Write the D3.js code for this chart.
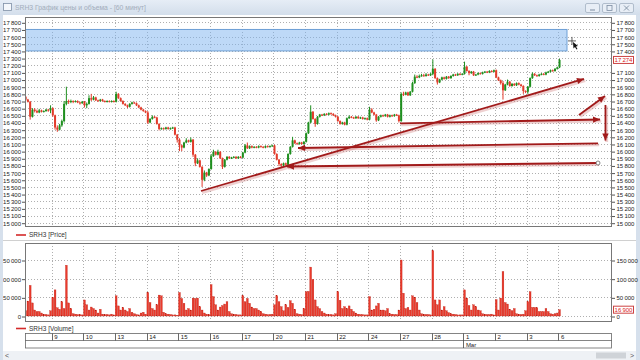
<!DOCTYPE html>
<html><head><meta charset="utf-8">
<script src="https://cdn.jsdelivr.net/npm/d3@7"></script>
<style>html,body{margin:0;padding:0;background:#fff;overflow:hidden}text{font-family:"Liberation Sans",Arial,sans-serif}</style>
</head><body><svg id="c" width="640" height="360"></svg>
<script>
// ---- data ----
const titleText = "SRH3 График цены и объема - [60 минут]";
const dayLabels = ["8","9","10","13","14","15","16","17","20","21","22","24","27","28","1","2","3","6"];
const monthLabels = [{day: 14, text: "Mar"}];
const firstSlot = 2; // first visible hourly bar of Feb 8
const priceTicks = d3.range(15000, 17801, 100);
const volumeTicks = [0, 50000, 100000, 150000];
const opens = [
16760,16720,16690,16480,16580,16560,16540,16570,16550,16560,16580,16570,
16600,16500,16330,16300,16360,16420,16660,16700,16690,16700,16690,16700,16680,16670,
16690,16640,16660,16740,16720,16750,16710,16700,16720,16700,16690,16700,16690,16700,
16690,16800,16740,16700,16660,16640,16620,16660,16680,16670,16640,16610,16580,16560,
16540,16400,16450,16480,16470,16380,16310,16320,16310,16330,16310,16320,16330,16230,
16160,16080,16050,16120,16150,16130,16160,15950,15830,15870,15780,15600,15700,15660,
15750,15930,15990,15950,15990,15900,15780,15880,15920,15900,15910,15920,15900,15920,
15910,15980,16080,16040,16070,16050,16060,16050,16070,16060,16050,16070,16060,16070,
16080,15960,15880,15820,15800,15830,15810,15960,16060,16150,16110,16100,16120,16100,
16130,16250,16400,16550,16450,16380,16480,16510,16500,16520,16510,16530,16520,16500,
16480,16420,16380,16400,16370,16460,16480,16470,16460,16480,16460,16470,16450,16460,
16440,16580,16540,16510,16430,16480,16500,16490,16510,16480,16500,16490,16510,16500,
16420,16800,16790,16820,16780,16830,16950,17040,17030,17050,17060,17050,17070,17060,
17080,17150,17020,16960,17000,17030,17010,17040,17020,17050,17070,17060,17080,17070,
17080,17180,17120,17090,17110,17060,17070,17090,17080,17100,17110,17100,17120,17110,
17130,17030,16990,16950,16850,16930,16970,16910,16940,16920,16950,16930,16910,16840,
16830,16900,17020,17080,17060,17050,17070,17080,17070,17100,17110,17130,17120,17150,
17170];
const highs = [
16770,16730,16700,16600,16600,16580,16590,16580,16570,16590,16590,16640,
16610,16510,16360,16380,16440,16700,16900,16720,16720,16710,16710,16710,16690,16700,
16700,16680,16780,16800,16770,16760,16720,16730,16730,16710,16710,16710,16710,16710,
16830,16810,16750,16710,16670,16650,16670,16690,16690,16680,16650,16620,16590,16570,
16560,16460,16500,16490,16480,16390,16330,16330,16340,16340,16330,16340,16340,16240,
16180,16090,16130,16180,16160,16190,16170,15960,15900,15880,15790,15730,15710,15760,
15960,16020,16000,16020,16000,15910,15890,15930,15930,15920,15930,15930,15930,15930,
15990,16100,16120,16080,16080,16070,16070,16080,16080,16070,16080,16080,16080,16090,
16090,15970,15890,15830,15840,15840,15970,16070,16200,16160,16120,16130,16130,16140,
16260,16410,16640,16560,16460,16490,16520,16520,16530,16530,16540,16540,16530,16510,
16490,16430,16410,16410,16470,16500,16490,16480,16490,16490,16480,16480,16470,16470,
16620,16600,16550,16520,16490,16510,16510,16520,16520,16510,16510,16520,16520,16510,
16820,16830,16830,16830,16840,16970,17070,17060,17070,17080,17080,17090,17080,17090,
17280,17160,17030,17010,17040,17040,17050,17050,17060,17080,17080,17090,17090,17090,
17250,17190,17130,17120,17120,17080,17100,17100,17110,17120,17120,17130,17130,17140,
17140,17040,17000,16980,16940,17000,16980,16950,16950,16960,16960,16940,16920,16850,
16910,17030,17100,17090,17070,17080,17090,17090,17110,17120,17140,17140,17160,17180,
17290];
const lows = [
16700,16680,16440,16470,16540,16530,16530,16540,16540,16550,16550,16530,
16480,16300,16270,16290,16340,16400,16640,16660,16670,16670,16680,16670,16650,16660,
16610,16600,16650,16700,16710,16700,16690,16690,16690,16680,16680,16680,16680,16680,
16680,16730,16690,16650,16630,16600,16610,16650,16660,16630,16600,16570,16550,16530,
16380,16390,16440,16460,16370,16290,16300,16300,16300,16300,16300,16310,16220,16120,
16000,16000,16040,16110,16120,16120,15920,15790,15820,15770,15500,15580,15640,15650,
15740,15920,15940,15940,15890,15750,15770,15870,15890,15890,15900,15890,15890,15900,
15900,15970,16030,16030,16040,16040,16040,16040,16050,16040,16040,16050,16050,16060,
15950,15870,15790,15770,15790,15800,15800,15950,16050,16100,16090,16090,16090,16090,
16120,16240,16390,16440,16340,16370,16470,16490,16490,16500,16500,16510,16490,16470,
16410,16370,16370,16360,16360,16450,16460,16450,16450,16450,16450,16440,16440,16430,
16430,16530,16500,16410,16420,16470,16480,16480,16470,16470,16480,16480,16490,16400,
16410,16770,16780,16770,16770,16820,16940,17020,17020,17040,17040,17040,17050,17050,
17060,17010,16930,16950,16990,17000,17000,17010,17010,17040,17050,17050,17060,17060,
17070,17110,17060,17080,17050,17050,17060,17070,17070,17090,17090,17090,17100,17100,
17020,16980,16930,16720,16840,16920,16900,16900,16910,16910,16920,16900,16800,16810,
16800,16890,17010,17050,17040,17040,17060,17060,17060,17090,17100,17110,17110,17140,
17160];
const closes = [
16720,16690,16480,16580,16560,16540,16570,16550,16560,16580,16570,16600,
16500,16330,16300,16360,16420,16660,16700,16690,16700,16690,16700,16680,16670,16690,
16640,16660,16740,16720,16750,16710,16700,16720,16700,16690,16700,16690,16700,16690,
16800,16740,16700,16660,16640,16620,16660,16680,16670,16640,16610,16580,16560,16540,
16400,16450,16480,16470,16380,16310,16320,16310,16330,16310,16320,16330,16230,16160,
16080,16050,16120,16150,16130,16160,15950,15830,15870,15780,15600,15700,15660,15750,
15930,15990,15950,15990,15900,15780,15880,15920,15900,15910,15920,15900,15920,15910,
15980,16080,16040,16070,16050,16060,16050,16070,16060,16050,16070,16060,16070,16080,
15960,15880,15820,15800,15830,15810,15960,16060,16150,16110,16100,16120,16100,16130,
16250,16400,16550,16450,16380,16480,16510,16500,16520,16510,16530,16520,16500,16480,
16420,16380,16400,16370,16460,16480,16470,16460,16480,16460,16470,16450,16460,16440,
16580,16540,16510,16430,16480,16500,16490,16510,16480,16500,16490,16510,16500,16420,
16800,16790,16820,16780,16830,16950,17040,17030,17050,17060,17050,17070,17060,17080,
17150,17020,16960,17000,17030,17010,17040,17020,17050,17070,17060,17080,17070,17080,
17180,17120,17090,17110,17060,17070,17090,17080,17100,17110,17100,17120,17110,17130,
17030,16990,16950,16850,16930,16970,16910,16940,16920,16950,16930,16910,16840,16830,
16900,17020,17080,17060,17050,17070,17080,17070,17100,17110,17130,17120,17150,17170,
17274];
const volumes = [
14000,40000,82000,35000,16000,12000,12000,8000,5000,4000,3000,14000,
50000,70000,22000,18000,38000,20000,136000,35000,20000,6000,5000,4000,4000,3000,
43000,30000,16000,24000,20000,16000,8000,18000,5000,4000,4000,3000,5000,3000,
54000,27000,16000,23000,16000,12000,20000,10000,6000,4000,3000,8000,10000,5000,
63000,36000,20000,16000,30000,56000,54000,10000,6000,5000,4000,3000,3000,2000,
63000,47000,34000,16000,20000,16000,48000,47000,48000,25000,16000,8000,5000,4000,
84000,52000,30000,16000,24000,28000,32000,38000,12000,6000,5000,4000,3000,3000,
54000,38000,47000,34000,24000,20000,20000,16000,12000,6000,5000,4000,4000,5000,
30000,54000,38000,25000,14000,30000,23000,41000,34000,18000,6000,5000,4000,20000,
65000,66000,131000,98000,43000,25000,20000,12000,8000,5000,4000,4000,3000,6000,
65000,42000,20000,25000,20000,27000,18000,12000,8000,5000,4000,4000,3000,3000,
52000,16000,18000,27000,34000,16000,16000,14000,20000,6000,5000,4000,4000,16000,
150000,61000,20000,23000,16000,54000,50000,36000,16000,6000,5000,4000,4000,3000,
175000,43000,30000,43000,16000,25000,14000,9000,6000,5000,4000,3000,3000,3000,
70000,48000,28000,16000,30000,25000,16000,14000,6000,5000,4000,4000,5000,3000,
44000,16000,48000,119000,36000,32000,18000,14000,20000,6000,5000,4000,5000,14000,
38000,65000,23000,23000,22000,12000,12000,12000,20000,12000,6000,5000,6000,8000,
16900];
const zone = {from: 17400, to: 17700, endSlot: 241.8};
// drawn lines: [slot, price] start and end (arrow at end)
const lineStarts = [[80.0,15443],[255.5,16109],[255.5,15834],[168.0,16389],[247.1,16505],[258.8,16645]];
const lineEnds   = [[249.3,17008],[122.9,16044],[118.0,15785],[256.4,16442],[258.6,16770],[258.8,16148]];
const lineStartCircle = [false,false,true,false,false,false];
const cursorPoint = [244.0, 17540];

// ---- setup ----
const svg = d3.select("#c");
const fmt = v => d3.format(",")(v).replace(/,/g, "\u2009");
const PL = 25, PR = 612, PT = 17, PB = 227;
const VT = 243, VB = 322;
const slotsPerDay = 14;
const xb = d3.scaleLinear().domain([0, 238]).range([20, 558.4]);
const y = d3.scaleLinear().domain([15000, 17800]).range([222.7, 22.3]);
const vy = d3.scaleLinear().domain([0, 150000]).range([316, 260]);
const bars = closes.map((c, k) => ({s: k + firstSlot, o: opens[k], h: highs[k], l: lows[k], c, v: volumes[k]}));
const cx = d => xb(d.s + 0.5);
const last = bars[bars.length-1];

const defs = svg.append("defs");
defs.append("clipPath").attr("id","cp").append("rect").attr("x",PL).attr("y",PT).attr("width",PR-PL).attr("height",PB-PT);
defs.append("clipPath").attr("id","cv").append("rect").attr("x",PL).attr("y",VT).attr("width",PR-PL).attr("height",VB-VT);
defs.append("clipPath").attr("id","cl").append("rect").attr("x",3).attr("y",0).attr("width",633).attr("height",360);
const g1 = defs.append("linearGradient").attr("id","tb").attr("x1",0).attr("x2",0).attr("y1",0).attr("y2",1);
g1.append("stop").attr("offset","0").attr("stop-color","#e6edf6");
g1.append("stop").attr("offset","1").attr("stop-color","#d3deeb");

// window chrome
svg.append("rect").attr("width",640).attr("height",360).attr("fill","#fff");
svg.append("rect").attr("x",0).attr("y",0).attr("width",640).attr("height",15).attr("fill","url(#tb)");
svg.append("rect").attr("x",0).attr("y",15).attr("width",3).attr("height",345).attr("fill","#d6e0ec");
svg.append("rect").attr("x",636).attr("y",15).attr("width",4).attr("height",345).attr("fill","#d6e0ec");
svg.append("rect").attr("x",3.5).attr("y",3.5).attr("width",8).attr("height",7).attr("fill","#f4f7fb").attr("stroke","#7f90a6").attr("stroke-width",0.8);
svg.append("text").attr("x",15).attr("y",10).attr("font-size",6.8).attr("fill","#a3adbb").text(titleText);
[585,602,619].forEach((bx,i) => {
  svg.append("rect").attr("x",bx+0.5).attr("y",3.5).attr("width",14).attr("height",9).attr("rx",1.5).attr("fill","#e8eef6").attr("stroke","#a3b1c2").attr("stroke-width",0.8);
  if (i===0) svg.append("line").attr("x1",bx+5).attr("x2",bx+10).attr("y1",10).attr("y2",10).attr("stroke","#7d8da2");
  if (i===1) svg.append("rect").attr("x",bx+5).attr("y",5.5).attr("width",5).attr("height",5).attr("fill","none").attr("stroke","#7d8da2").attr("stroke-width",0.8);
  if (i===2) svg.append("path").attr("d",`M${bx+5},5.5L${bx+10},10.5M${bx+10},5.5L${bx+5},10.5`).attr("stroke","#7d8da2").attr("stroke-width",0.9);
});

// ---- price panel ----
const gp = svg.append("g");
gp.append("rect").attr("x",PL).attr("y",PT).attr("width",PR-PL).attr("height",PB-PT).attr("fill","#fff");
const gridP = gp.append("g").attr("clip-path","url(#cp)");
gridP.selectAll("line.h").data(priceTicks).join("line")
  .attr("x1",PL).attr("x2",PR).attr("y1",d=>Math.round(y(d))+0.5).attr("y2",d=>Math.round(y(d))+0.5)
  .attr("stroke","#9a9a9a").attr("stroke-width",0.8).attr("stroke-dasharray","1,2");
const dayIdx = d3.range(1, dayLabels.length);
gridP.selectAll("line.v").data(dayIdx).join("line")
  .attr("x1",d=>Math.round(xb(d*slotsPerDay))+0.5).attr("x2",d=>Math.round(xb(d*slotsPerDay))+0.5)
  .attr("y1",PT).attr("y2",PB).attr("stroke","#9a9a9a").attr("stroke-width",0.8).attr("stroke-dasharray","1,2");
// zone
gridP.append("rect").attr("x",xb(0)).attr("width",xb(zone.endSlot)-xb(0))
  .attr("y",y(zone.to)).attr("height",y(zone.from)-y(zone.to))
  .attr("fill","rgba(125,180,240,0.5)").attr("stroke","#6d9fd6").attr("stroke-width",1);
// candles
const up = "#1f8f1f", dn = "#e23b2b";
const cg = gp.append("g").attr("clip-path","url(#cp)");
cg.selectAll("line.w").data(bars).join("line")
  .attr("x1",cx).attr("x2",cx).attr("y1",d=>y(d.h)).attr("y2",d=>y(d.l))
  .attr("stroke",d=>d.c>=d.o?up:dn).attr("stroke-width",1);
cg.selectAll("rect.b").data(bars).join("rect")
  .attr("x",d=>cx(d)-1).attr("width",2)
  .attr("y",d=>y(Math.max(d.o,d.c))).attr("height",d=>Math.max(1,Math.abs(y(d.o)-y(d.c))))
  .attr("fill",d=>d.c>=d.o?up:dn);

// drawn lines (annotations)
const ag = svg.append("g");
const lines = lineStarts.map((s,i)=>({x1:xb(s[0]),y1:y(s[1]),x2:xb(lineEnds[i][0]),y2:y(lineEnds[i][1]),circ:lineStartCircle[i]}));
ag.selectAll("line.sh").data(lines).join("line")
  .attr("x1",d=>d.x1+1.2).attr("y1",d=>d.y1+1.5).attr("x2",d=>d.x2+1.2).attr("y2",d=>d.y2+1.5)
  .attr("stroke","rgba(205,120,120,0.35)").attr("stroke-width",3);
const acol = "#a11a1a";
ag.selectAll("line.m").data(lines).join("line")
  .attr("x1",d=>d.x1).attr("y1",d=>d.y1).attr("x2",d=>d.x2).attr("y2",d=>d.y2)
  .attr("stroke",acol).attr("stroke-width",1.8);
ag.selectAll("path.ah").data(lines).join("path")
  .attr("d",d=>{
    const a = Math.atan2(d.y2-d.y1,d.x2-d.x1), L=7, W=3.2;
    const bx = d.x2 - L*Math.cos(a), by = d.y2 - L*Math.sin(a);
    const px = -Math.sin(a)*W, py = Math.cos(a)*W;
    return `M${d.x2},${d.y2}L${bx+px},${by+py}L${bx-px},${by-py}Z`;
  }).attr("fill",acol);
ag.selectAll("circle").data(lines.filter(d=>d.circ)).join("circle")
  .attr("cx",d=>d.x1).attr("cy",d=>d.y1).attr("r",2).attr("fill","#fff").attr("stroke","#666").attr("stroke-width",0.8);

// cursor
const cpx = xb(cursorPoint[0]), cpy = y(cursorPoint[1]);
svg.append("path").attr("d",`M${cpx-4},${cpy}H${cpx+4}M${cpx},${cpy-4}V${cpy+4}`).attr("stroke","#333").attr("stroke-width",0.8);
svg.append("path").attr("d",`M${cpx+1},${cpy+1}l5,4l-2,0.5l1.5,2.5l-1,0.6l-1.5,-2.5l-1.5,1.4z`).attr("fill","#111");

gp.append("rect").attr("x",PL+0.5).attr("y",PT+0.5).attr("width",PR-PL-1).attr("height",PB-PT-1).attr("fill","none").attr("stroke","#777");

// price axes
const styleAxis = sel => {
  sel.select(".domain").remove();
  sel.selectAll("line").attr("stroke","#555");
  sel.selectAll("text").attr("font-size",6).attr("fill","#222").attr("font-family","Liberation Sans, Arial, sans-serif");
};
svg.append("g").attr("clip-path","url(#cl)").append("g").attr("transform",`translate(${PL},0.5)`)
  .call(d3.axisLeft(y).tickValues(priceTicks).tickSize(3).tickPadding(1).tickFormat(fmt)).call(styleAxis);
const rightPriceTicks = priceTicks.filter(t => Math.abs(y(t) - y(last.c)) > 8);
svg.append("g").attr("transform",`translate(${PR},0.5)`)
  .call(d3.axisRight(y).tickValues(rightPriceTicks).tickSize(3).tickPadding(1.5).tickFormat(fmt)).call(styleAxis);
// last price label
svg.append("rect").attr("x",613.5).attr("y",y(last.c)-3.5).attr("width",20).attr("height",7).attr("fill","#fff").attr("stroke","#c44");
svg.append("text").attr("x",623.5).attr("y",y(last.c)+2.2).attr("text-anchor","middle").attr("font-size",6).attr("fill","#d22").text(fmt(last.c));

// legends
const legend = (yy, txt) => {
  svg.append("line").attr("x1",16).attr("x2",26).attr("y1",yy).attr("y2",yy).attr("stroke","#d42a2a").attr("stroke-width",1.6);
  svg.append("text").attr("x",29).attr("y",yy+2.3).attr("font-size",6.5).attr("fill","#333").text(txt);
};
legend(235, "SRH3 [Price]");
svg.append("line").attr("x1",3).attr("x2",636).attr("y1",240.5).attr("y2",240.5).attr("stroke","#d0d0d0");

// ---- volume panel ----
const gv = svg.append("g");
const gridV = gv.append("g").attr("clip-path","url(#cv)");
gridV.selectAll("line.h").data(volumeTicks).join("line")
  .attr("x1",PL).attr("x2",PR).attr("y1",d=>Math.round(vy(d))+0.5).attr("y2",d=>Math.round(vy(d))+0.5)
  .attr("stroke","#9a9a9a").attr("stroke-width",0.8).attr("stroke-dasharray","1,2");
gridV.selectAll("line.v").data(dayIdx).join("line")
  .attr("x1",d=>Math.round(xb(d*slotsPerDay))+0.5).attr("x2",d=>Math.round(xb(d*slotsPerDay))+0.5)
  .attr("y1",VT).attr("y2",VB).attr("stroke","#9a9a9a").attr("stroke-width",0.8).attr("stroke-dasharray","1,2");
gridV.selectAll("rect.vb").data(bars).join("rect")
  .attr("x",d=>cx(d)-0.9).attr("width",1.8)
  .attr("y",d=>vy(d.v)).attr("height",d=>vy(0)-vy(d.v))
  .attr("fill","#ea3a2c").attr("stroke","#b8180c").attr("stroke-width",0.3);
gv.append("rect").attr("x",PL+0.5).attr("y",VT+0.5).attr("width",PR-PL-1).attr("height",VB-VT-1).attr("fill","none").attr("stroke","#777");
svg.append("g").attr("clip-path","url(#cl)").append("g").attr("transform",`translate(${PL},0.5)`)
  .call(d3.axisLeft(vy).tickValues(volumeTicks).tickSize(3).tickPadding(1).tickFormat(fmt)).call(styleAxis);
svg.append("g").attr("transform",`translate(${PR},0.5)`)
  .call(d3.axisRight(vy).tickValues(volumeTicks).tickSize(3).tickPadding(1.5).tickFormat(fmt)).call(styleAxis);
svg.append("rect").attr("x",613.5).attr("y",vy(last.v)-3.5).attr("width",20).attr("height",7).attr("fill","#fff").attr("stroke","#c44");
svg.append("text").attr("x",623.5).attr("y",vy(last.v)+2.2).attr("text-anchor","middle").attr("font-size",6).attr("fill","#d22").text(fmt(last.v));

legend(328.5, "SRH3 [Volume]");

// ---- date axis ----
const DT = 333.5, DM = 340.5, DB = 348;
const dg = svg.append("g");
dg.append("rect").attr("x",PL+0.5).attr("y",DT).attr("width",PR-PL-1).attr("height",DB-DT).attr("fill","#fff").attr("stroke","#666").attr("stroke-width",0.8);
dg.append("line").attr("x1",PL).attr("x2",PR).attr("y1",DM).attr("y2",DM).attr("stroke","#666").attr("stroke-width",0.8);
dg.selectAll("line.t").data(dayIdx).join("line")
  .attr("x1",d=>Math.round(xb(d*slotsPerDay))+0.5).attr("x2",d=>Math.round(xb(d*slotsPerDay))+0.5)
  .attr("y1",DT).attr("y2",d=>monthLabels.some(m=>m.day===d)?DB:DM).attr("stroke","#444").attr("stroke-width",0.8);
dg.selectAll("text.t").data(dayIdx).join("text")
  .attr("x",d=>xb(d*slotsPerDay)+2.5).attr("y",339.3).attr("font-size",6).attr("fill","#222").text(d=>dayLabels[d]);
dg.selectAll("text.m").data(monthLabels).join("text")
  .attr("x",d=>xb(d.day*slotsPerDay)+2.5).attr("y",346.6).attr("font-size",6).attr("fill","#222").text(d=>d.text);

// scrollbar
svg.append("rect").attr("x",3).attr("y",351).attr("width",633).attr("height",9).attr("fill","#eef1f5");
svg.append("rect").attr("x",596).attr("y",352.5).attr("width",30).attr("height",6).attr("fill","#cfd3d8");
svg.append("text").attr("x",5).attr("y",358).attr("font-size",7).attr("fill","#555").text("<");
svg.append("text").attr("x",630).attr("y",358).attr("font-size",7).attr("fill","#555").text(">");
</script></body></html>
